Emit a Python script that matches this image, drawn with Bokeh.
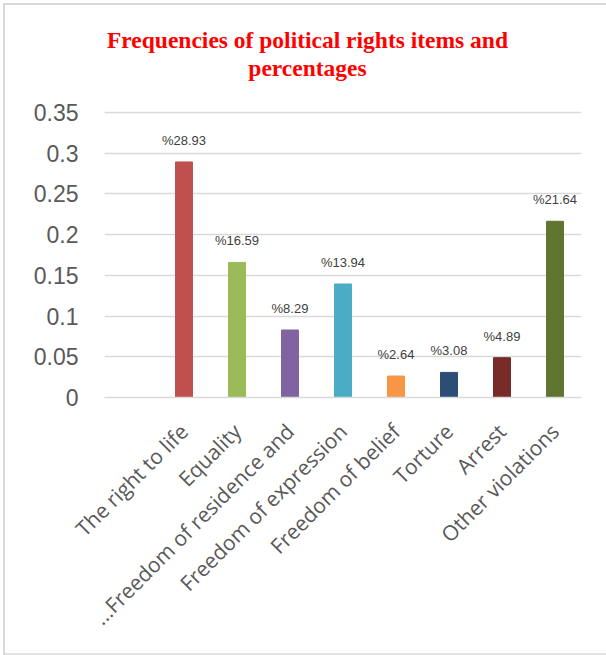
import math
from bokeh.plotting import figure
from bokeh.models import ColumnDataSource, FixedTicker, LabelSet, Label
from bokeh.core.properties import value
from bokeh.embed import file_html
from bokeh.resources import INLINE

# Share of each political-rights item (fraction of all reported violations)
categories = [
    "The right to life",
    "Equality",
    "...Freedom of residence and",
    "Freedom of expression",
    "Freedom of belief",
    "Torture",
    "Arrest",
    "Other violations",
]
shares = [0.2893, 0.1659, 0.0829, 0.1394, 0.0264, 0.0308, 0.0489, 0.2164]
percent_labels = ["%28.93", "%16.59", "%8.29", "%13.94", "%2.64", "%3.08", "%4.89", "%21.64"]
bar_colors = ["#C0504D", "#9BBB59", "#8064A2", "#4BACC6", "#F79646", "#2C4D75", "#772C2A", "#5F7530"]
y_ticks = [0, 0.05, 0.1, 0.15, 0.2, 0.25, 0.3, 0.35]
y_tick_labels = ["0", "0.05", "0.1", "0.15", "0.2", "0.25", "0.3", "0.35"]
title_lines = ["Frequencies of political rights items and", "percentages"]

# slot 0 is left empty, the items occupy slots 1..8
positions = list(range(1, len(categories) + 1))

# page geometry (pixels): the plotting frame runs from the top of the canvas
# down to the value axis; the gridded value band 0..0.35 fills its lower part
W, H = 606, 655
border_left, border_right, border_bottom = 104, 25, 258
frame_h = H - border_bottom
band_px = 285                      # height of the 0..0.35 band
y_top = max(y_ticks) * frame_h / band_px

source = ColumnDataSource(dict(
    x=positions,
    share=shares,
    label=percent_labels,
    color=bar_colors,
))

p = figure(
    width=W, height=H,
    x_range=(-0.5, 8.5), y_range=(0, y_top),
    output_backend="svg", toolbar_location=None,
    min_border_left=border_left, min_border_right=border_right,
    min_border_top=0, min_border_bottom=border_bottom,
    background_fill_color=None, border_fill_color=None,
    outline_line_color=None,
    # thin light-grey frame drawn behind the transparent canvas
    styles={
        "background-color": "white",
        "box-shadow": "inset 3px 3px 0 0 white, inset 5px 5px 0 0 #D9D9D9, inset 0 -2px 0 0 #E4E4E4",
    },
)

p.vbar(x="x", top="share", width=0.32, color="color", source=source)

p.add_layout(LabelSet(
    x="x", y="share", text="label", source=source,
    text_align="center", text_baseline="bottom", y_offset=14,
    text_font=value("Liberation Sans"), text_font_size=value("13px"),
    text_color=value("#404040"),
))

# two-line centred title (screen units measured from the frame's lower left)
title_centre_x = W / 2 + 4 - border_left
for line, from_top in zip(title_lines, [39, 67]):
    p.add_layout(Label(
        x=title_centre_x, y=frame_h - from_top,
        x_units="screen", y_units="screen", text=line,
        text_align="center", text_baseline="middle",
        text_font="Liberation Serif", text_font_size="23.5px",
        text_font_style="bold", text_color="#FF0000",
    ))

# grid
p.xgrid.grid_line_color = None
p.ygrid.ticker = FixedTicker(ticks=y_ticks)
p.ygrid.grid_line_color = "#D9D9D9"
p.ygrid.grid_line_width = 1.3

# y axis
p.yaxis.ticker = FixedTicker(ticks=y_ticks)
p.yaxis.major_label_overrides = {t: s for t, s in zip(y_ticks, y_tick_labels)}
p.yaxis.axis_line_color = None
p.yaxis.major_tick_line_color = None
p.yaxis.minor_tick_line_color = None
p.yaxis.major_label_text_font = "Liberation Sans"
p.yaxis.major_label_text_font_size = "23px"
p.yaxis.major_label_text_color = "#595959"
p.yaxis.major_label_standoff = 20

# x axis
p.xaxis.ticker = FixedTicker(ticks=positions)
p.xaxis.major_label_overrides = {x: c for x, c in zip(positions, categories)}
p.xaxis.major_label_orientation = math.pi / 4
p.xaxis.axis_line_color = "#D9D9D9"
p.xaxis.axis_line_width = 1.5
p.xaxis.major_tick_line_color = None
p.xaxis.minor_tick_line_color = None
p.xaxis.major_label_text_font = "Open Sans"
p.xaxis.major_label_text_font_size = "21px"
p.xaxis.major_label_text_color = "#595959"
p.xaxis.major_label_standoff = 24

open("out.html", "w").write(file_html(p, INLINE))
